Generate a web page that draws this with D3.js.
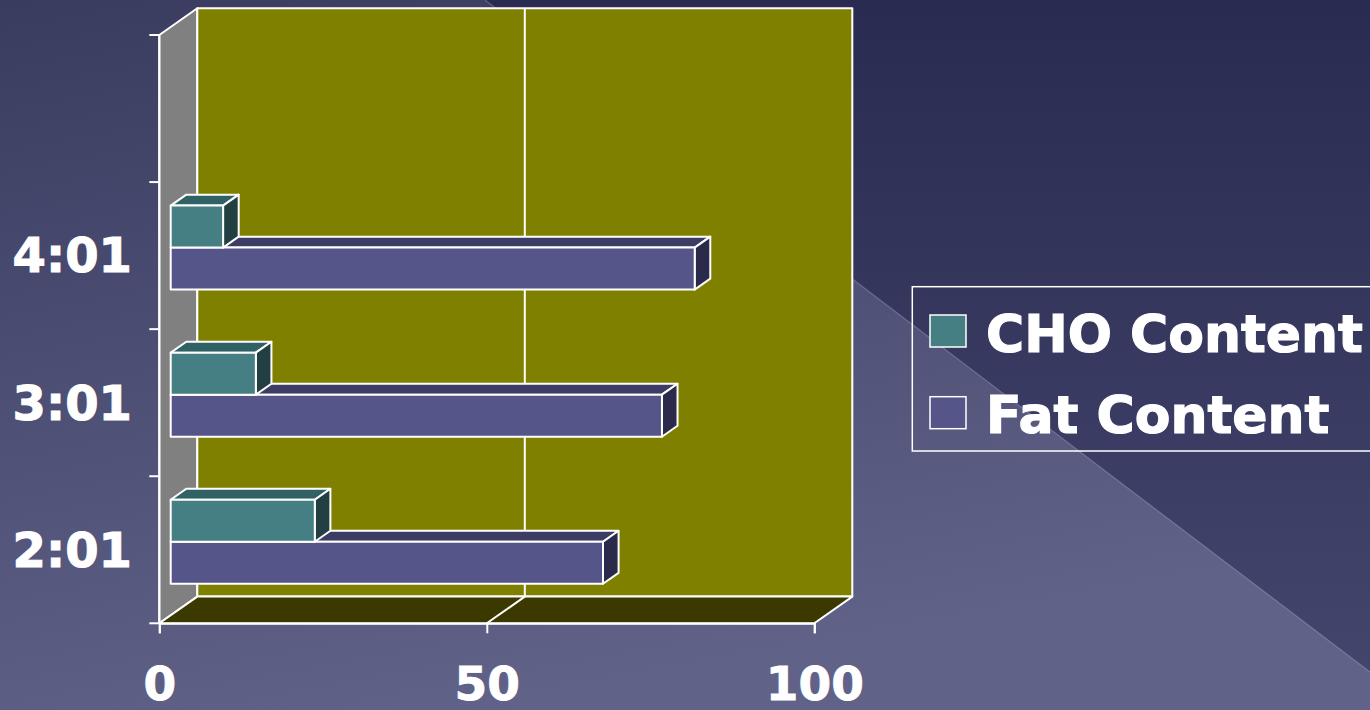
<!DOCTYPE html>
<html>
<head>
<meta charset="utf-8">
<script src="https://cdn.jsdelivr.net/npm/d3@7"></script>
<style>
html,body{margin:0;padding:0;overflow:hidden;background:#3a3c60;}
svg{display:block;}
</style>
</head>
<body>
<svg id="chart" width="1370" height="710"></svg>
<script>
// ---- data ----
const categories = ["2:01", "3:01", "4:01", ""];
const choValues = [22, 13, 8, null];
const fatValues = [66, 75, 80, null];
const seriesNames = ["CHO Content", "Fat Content"];
const xTicks = [0, 50, 100];

// ---- styles ----
const colors = {
  cho: {front: "#457f83", top: "#2f6165", side: "#223f42"},
  fat: {front: "#55558a", top: "#3d3c65", side: "#2b2a4a"}
};
const FONT = "'DejaVu Sans', 'Liberation Sans', sans-serif";

const svg = d3.select("#chart");
const W = 1370, H = 710;

// ---- background ----
const defs = svg.append("defs");
const g1 = defs.append("linearGradient").attr("id", "bgBase")
  .attr("x1", "0").attr("y1", "0").attr("x2", "0.35").attr("y2", "1");
g1.append("stop").attr("offset", "0").attr("stop-color", "#393b5f");
g1.append("stop").attr("offset", "1").attr("stop-color", "#606288");
const g2 = defs.append("linearGradient").attr("id", "bgDark")
  .attr("x1", "0").attr("y1", "0").attr("x2", "0").attr("y2", "1");
g2.append("stop").attr("offset", "0").attr("stop-color", "#2a2b50");
g2.append("stop").attr("offset", "1").attr("stop-color", "#43456d");

svg.append("rect").attr("width", W).attr("height", H).attr("fill", "url(#bgBase)");
svg.append("path").attr("d", "M485,0 L1370,0 L1370,672 Z").attr("fill", "url(#bgDark)");
svg.append("line").attr("x1", 485).attr("y1", 0).attr("x2", 1370).attr("y2", 672)
  .attr("stroke", "rgba(200,200,230,0.3)").attr("stroke-width", 1.2);

// ---- scales ----
const x = d3.scaleLinear().domain([0, 100]).range([159.3, 814.3]);
const yBand = d3.scaleBand().domain(categories).range([623.3, 35]);
const ySub = d3.scaleBand().domain(["cho", "fat"]).range([0, yBand.bandwidth()])
  .paddingInner(0).paddingOuter(0.75);

// depth projection
const DX = 38, DY = -26.7;
const P = (px, py, z) => [px + z * DX, py + z * DY];
const poly = pts => "M" + pts.map(p => p.join(",")).join("L") + "Z";

const yTop = 35, yBot = 623.3;
const x0 = x(0), x1 = x(100);

// ---- walls ----
const walls = svg.append("g").attr("stroke", "#fff").attr("stroke-width", 2).attr("stroke-linejoin", "round");
walls.append("path").attr("d", poly([P(x0, yTop, 0), P(x0, yTop, 1), P(x0, yBot, 1), P(x0, yBot, 0)]))
  .attr("fill", "#808080");
walls.append("path").attr("d", poly([P(x0, yTop, 1), P(x1, yTop, 1), P(x1, yBot, 1), P(x0, yBot, 1)]))
  .attr("fill", "#808000");
walls.append("path").attr("d", poly([P(x0, yBot, 0), P(x0, yBot, 1), P(x1, yBot, 1), P(x1, yBot, 0)]))
  .attr("fill", "#3b3800");
xTicks.filter(t => t > 0 && t < 100).forEach(t => {
  walls.append("path").attr("fill", "none")
    .attr("d", "M" + P(x(t), yBot, 0) + "L" + P(x(t), yBot, 1) + "L" + P(x(t), yTop, 1));
});

// ---- bars ----
const z0 = 0.30, z1 = 0.71;
function bar(g, v, yT, yB, c) {
  const xs = x(0), xe = x(v);
  const ff = [P(xs, yT, z0), P(xe, yT, z0), P(xe, yB, z0), P(xs, yB, z0)];
  const top = [P(xs, yT, z0), P(xs, yT, z1), P(xe, yT, z1), P(xe, yT, z0)];
  const side = [P(xe, yT, z0), P(xe, yT, z1), P(xe, yB, z1), P(xe, yB, z0)];
  g.append("path").attr("d", poly(top)).attr("fill", c.top);
  g.append("path").attr("d", poly(side)).attr("fill", c.side);
  g.append("path").attr("d", poly(ff)).attr("fill", c.front);
}
const barsG = svg.append("g").attr("stroke", "#fff").attr("stroke-width", 2).attr("stroke-linejoin", "round");
categories.forEach((cat, i) => {
  const b = yBand(cat);
  if (fatValues[i] != null) {
    bar(barsG, fatValues[i], b + ySub("fat"), b + ySub("fat") + ySub.bandwidth(), colors.fat);
  }
  if (choValues[i] != null) {
    bar(barsG, choValues[i], b + ySub("cho"), b + ySub("cho") + ySub.bandwidth(), colors.cho);
  }
});

// ---- axes ----
const xAxis = d3.axisBottom(x).tickValues(xTicks).tickSize(10).tickFormat(d3.format("d"));
const gx = svg.append("g").attr("transform", `translate(0,${yBot})`).call(xAxis);
gx.select(".domain").attr("stroke", "#fff").attr("stroke-width", 2);
gx.selectAll(".tick line").attr("stroke", "#fff").attr("stroke-width", 2);
gx.selectAll(".tick text").attr("fill", "#fff").attr("font-family", FONT)
  .attr("font-weight", "bold").attr("font-size", 47).attr("stroke", "#fff").attr("stroke-width", 0.8)
  .attr("dy", 0).attr("y", 77);

const gy = svg.append("g").attr("stroke", "#fff").attr("stroke-width", 2);
gy.append("line").attr("x1", x0).attr("x2", x0).attr("y1", yTop).attr("y2", yBot);
const bounds = categories.map(c => yBand(c)).concat([yBot]);
gy.selectAll("line.tk").data(bounds).join("line").attr("class", "tk")
  .attr("x1", x0 - 10).attr("x2", x0).attr("y1", d => d).attr("y2", d => d);

const yAxis = d3.axisLeft(yBand).tickSize(0).tickPadding(0);
const gyl = svg.append("g").attr("transform", `translate(132,0)`).call(yAxis);
gyl.select(".domain").remove();
gyl.selectAll(".tick text").attr("fill", "#fff").attr("font-family", FONT)
  .attr("font-weight", "bold").attr("font-size", 48).attr("stroke", "#fff").attr("stroke-width", 1)
  .attr("dy", "0.35em");

// ---- legend ----
const lg = svg.append("g");
lg.append("rect").attr("x", 912.3).attr("y", 286.7).attr("width", 480).attr("height", 164.3)
  .attr("fill", "none").attr("stroke", "#fff").attr("stroke-width", 1.5);
const legendItems = [
  {name: seriesNames[0], c: colors.cho.front, y: 315},
  {name: seriesNames[1], c: colors.fat.front, y: 396.7}
];
legendItems.forEach(it => {
  lg.append("rect").attr("x", 930).attr("y", it.y).attr("width", 36).attr("height", 32)
    .attr("fill", it.c).attr("stroke", "#fff").attr("stroke-width", 1.5);
  lg.append("text").attr("x", 986).attr("y", it.y + 36.5).text(it.name)
    .attr("fill", "#fff").attr("font-family", FONT).attr("font-weight", "bold")
    .attr("font-size", 52).attr("stroke", "#fff").attr("stroke-width", 1.2);
});
</script>
</body>
</html>
